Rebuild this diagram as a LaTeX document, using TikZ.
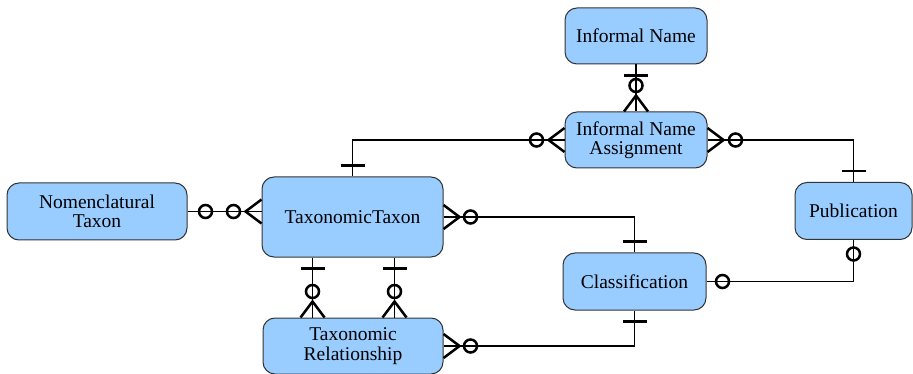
\documentclass[tikz,border=0pt]{standalone}
\usepackage{fontspec}
\setmainfont{Liberation Serif}
\usetikzlibrary{calc}
\definecolor{entblue}{RGB}{153,204,255}
\tikzset{
  ent/.style={draw=black!80, line width=1pt, fill=entblue, rounded corners=12pt,
    align=center, font=\fontsize{19.5}{19.5}\selectfont, inner sep=0pt},
  conn/.style={line width=1.8pt, black},
  deco/.style={line width=2.5pt, black}
}
% outward direction angle: 0 east, 90 up, 180 west, 270 down
\newcommand{\ermany}[2]{\begin{scope}[shift={(#1)},rotate=#2]\draw[deco] (0pt,12pt)--(16pt,0pt)--(0pt,-12pt);\end{scope}}
\newcommand{\erzero}[3]{\begin{scope}[shift={(#1)},rotate=#2]\draw[deco] (#3pt,0pt) circle[radius=6.5pt];\end{scope}}
\newcommand{\erbar}[2]{\begin{scope}[shift={(#1)},rotate=#2]\draw[deco] (11pt,12pt)--(11pt,-12pt);\end{scope}}
\begin{document}
\begin{tikzpicture}[x=1pt,y=-1pt]
\useasboundingbox (0,0) rectangle (913,374);
% entities
\node[ent, minimum width=142pt, minimum height=56pt] (inm) at (636,36) {Informal Name};
\node[ent, minimum width=142pt, minimum height=56pt] (ina) at (636,140) {Informal Name\\Assignment};
\node[ent, minimum width=180pt, minimum height=57pt] (nom) at (97,211.5) {Nomenclatural\\Taxon};
\node[ent, minimum width=181pt, minimum height=80pt] (tt) at (352.5,217) {TaxonomicTaxon};
\node[ent, minimum width=117pt, minimum height=57pt] (pub) at (853.5,211) {Publication};
\node[ent, minimum width=143pt, minimum height=57pt] (cls) at (634.5,281.5) {Classification};
\node[ent, minimum width=180pt, minimum height=56pt] (rel) at (353,346) {Taxonomic\\Relationship};
% helper coordinates
\coordinate (ttw) at (nom.east -| tt.west);
\coordinate (tts1) at ([xshift=-40pt]tt.south);
\coordinate (tts2) at ([xshift=42pt]tt.south);
\coordinate (reln1) at (tts1 |- rel.north);
\coordinate (reln2) at (tts2 |- rel.north);
% connectors
\draw[conn] (nom.east) -- (ttw);
\draw[conn] (inm.south) -- (ina.north);
\draw[conn] (ina.west) -| (tt.north);
\draw[conn] (ina.east) -| (pub.north);
\draw[conn] (tt.east) -| (cls.north);
\draw[conn] (pub.south) |- (cls.east);
\draw[conn] (tts1) -- (reln1);
\draw[conn] (tts2) -- (reln2);
\draw[conn] (rel.east) -| (cls.south);
% nomenclatural -- taxonomic
\erzero{nom.east}{0}{18}
\ermany{ttw}{180}
\erzero{ttw}{180}{28}
% informal name -- assignment
\erbar{inm.south}{270}
\ermany{ina.north}{90}
\erzero{ina.north}{90}{26}
% assignment -- taxon
\ermany{ina.west}{180}
\erzero{ina.west}{180}{28}
\erbar{tt.north}{90}
% assignment -- publication
\ermany{ina.east}{0}
\erzero{ina.east}{0}{28}
\erbar{pub.north}{90}
% taxon -- classification
\ermany{tt.east}{0}
\erzero{tt.east}{0}{27}
\erbar{cls.north}{90}
% publication -- classification
\erzero{pub.south}{270}{14}
\erzero{cls.east}{0}{16}
% taxon -- relationship
\erbar{tts1}{270}
\erbar{tts2}{270}
\ermany{reln1}{90}
\erzero{reln1}{90}{26}
\ermany{reln2}{90}
\erzero{reln2}{90}{26}
% relationship -- classification
\ermany{rel.east}{0}
\erzero{rel.east}{0}{27}
\erbar{cls.south}{270}
\end{tikzpicture}
\end{document}
